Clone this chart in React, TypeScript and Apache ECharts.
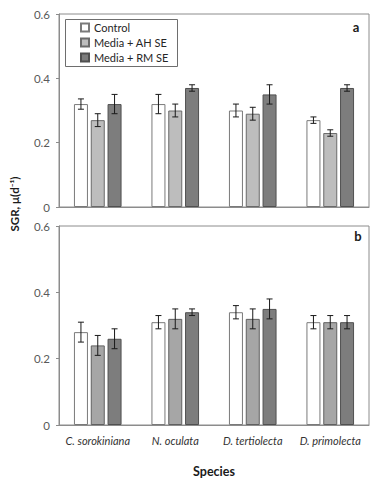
import React, { useEffect, useRef } from "react";
import * as echarts from "echarts";

const species = ["C. sorokiniana", "N. oculata", "D. tertiolecta", "D. primolecta"];
const seriesNames = ["Control", "Media + AH SE", "Media + RM SE"];
const yTicks = [0, 0.2, 0.4, 0.6];

// Panel a
const aControl = [0.32, 0.32, 0.30, 0.27];
const aControlErr = [0.016, 0.03, 0.02, 0.01];
const aAH = [0.27, 0.30, 0.29, 0.23];
const aAHErr = [0.02, 0.02, 0.02, 0.01];
const aRM = [0.32, 0.37, 0.35, 0.37];
const aRMErr = [0.03, 0.01, 0.03, 0.01];

// Panel b
const bControl = [0.28, 0.31, 0.34, 0.31];
const bControlErr = [0.03, 0.02, 0.02, 0.02];
const bAH = [0.24, 0.32, 0.32, 0.31];
const bAHErr = [0.03, 0.03, 0.03, 0.02];
const bRM = [0.26, 0.34, 0.35, 0.31];
const bRMErr = [0.03, 0.01, 0.03, 0.02];

const FONT = "Lato";
const BAR_W = 14;
const BAR_GAP = 2.8;

const colorsA = [
  { fill: "#ffffff", border: "#7a7a7a" },
  { fill: "#bdbdbd", border: "#6a6a6a" },
  { fill: "#7d7d7d", border: "#505050" },
];
const colorsB = [
  { fill: "#ffffff", border: "#7a7a7a" },
  { fill: "#a6a6a6", border: "#606060" },
  { fill: "#7d7d7d", border: "#505050" },
];

function errSeries(vals: number[], errs: number[], idx: number, axis: number) {
  const offset = (idx - 1) * (BAR_W + BAR_GAP);
  return {
    type: "custom",
    xAxisIndex: axis,
    yAxisIndex: axis,
    z: 10,
    silent: true,
    data: vals.map((v, i) => [i, v, errs[i]]),
    encode: { x: 0, y: 1 },
    renderItem: (params: any, api: any) => {
      const c = api.value(0);
      const v = api.value(1);
      const e = api.value(2);
      const x = api.coord([c, v])[0] + offset;
      const yt = api.coord([c, v + e])[1];
      const yb = api.coord([c, v - e])[1];
      const cap = 3;
      const st = { stroke: "#1a1a1a", lineWidth: 1 };
      return {
        type: "group",
        children: [
          { type: "line", shape: { x1: x, y1: yt, x2: x, y2: yb }, style: st },
          { type: "line", shape: { x1: x - cap, y1: yt, x2: x + cap, y2: yt }, style: st },
          { type: "line", shape: { x1: x - cap, y1: yb, x2: x + cap, y2: yb }, style: st },
        ],
      };
    },
  };
}

function barSeries(name: string, vals: number[], axis: number, col: { fill: string; border: string }) {
  return {
    type: "bar",
    name,
    xAxisIndex: axis,
    yAxisIndex: axis,
    barWidth: BAR_W,
    barGap: "20%",
    data: vals,
    itemStyle: { color: col.fill, borderColor: col.border, borderWidth: 1 },
  };
}

export default function App() {
  const ref = useRef<HTMLDivElement>(null);
  useEffect(() => {
    if (!ref.current) return;
    const chart = echarts.init(ref.current, null, { renderer: "svg" });
    const yAxisBase = (show: boolean) => ({
      type: "value",
      min: 0,
      max: 0.6,
      interval: 0.2,
      axisLine: { show: true, lineStyle: { color: "#8c8c8c" } },
      axisTick: { show: true, length: 3, lineStyle: { color: "#8c8c8c" } },
      splitLine: { show: false },
      axisLabel: {
        show,
        color: "#595959",
        fontFamily: FONT,
        fontSize: 11.5,
        margin: 9,
        formatter: (v: number) => (yTicks.includes(Math.round(v * 10) / 10) ? (v === 0 ? "0" : v.toFixed(1)) : ""),
      },
    });
    const xAxisBase = (showLabel: boolean) => ({
      type: "category",
      data: species,
      axisLine: { show: true, lineStyle: { color: "#8c8c8c" } },
      axisTick: { show: false },
      axisLabel: {
        show: showLabel,
        interval: 0,
        color: "#333333",
        fontFamily: FONT,
        fontStyle: "italic",
        fontSize: 11,
        margin: 10,
      },
    });
    chart.setOption({
      animation: false,
      backgroundColor: "#ffffff",
      grid: [
        { left: 59, right: 5, top: 14, height: 193, show: true, borderColor: "#8c8c8c", borderWidth: 1, backgroundColor: "transparent" },
        { left: 59, right: 5, top: 226, height: 199, show: true, borderColor: "#8c8c8c", borderWidth: 1, backgroundColor: "transparent" },
      ],
      xAxis: [{ ...xAxisBase(false), gridIndex: 0 }, { ...xAxisBase(true), gridIndex: 1 }],
      yAxis: [{ ...yAxisBase(true), gridIndex: 0 }, { ...yAxisBase(true), gridIndex: 1 }],
      legend: {
        orient: "vertical",
        left: 80,
        top: 22,
        data: seriesNames,
        icon: "rect",
        itemWidth: 8,
        itemHeight: 8,
        itemGap: 4,
        padding: 0,
        textStyle: { fontFamily: FONT, fontSize: 11, color: "#262626" },
      },
      graphic: [
        { type: "rect", shape: { x: 65.5, y: 19.5, width: 112, height: 47 }, style: { fill: "none", stroke: "#6e6e6e", lineWidth: 1 }, z: 5 },
        { type: "text", x: 356, y: 27, style: { text: "a", font: `bold 13px ${FONT}`, fill: "#1a1a1a", textAlign: "center", textVerticalAlign: "middle" } },
        { type: "text", x: 358, y: 236, style: { text: "b", font: `bold 13px ${FONT}`, fill: "#1a1a1a", textAlign: "center", textVerticalAlign: "middle" } },
        { type: "text", x: 214, y: 471, style: { text: "Species", font: `bold 12.5px ${FONT}`, fill: "#1a1a1a", textAlign: "center", textVerticalAlign: "middle" } },
        {
          type: "text",
          x: 14,
          y: 204,
          rotation: Math.PI / 2,
          style: { text: "SGR, μ(d⁻¹)", font: `bold 11.5px ${FONT}`, fill: "#1a1a1a", textAlign: "center", textVerticalAlign: "middle" },
        },
      ],
      series: [
        barSeries(seriesNames[0], aControl, 0, colorsA[0]),
        barSeries(seriesNames[1], aAH, 0, colorsA[1]),
        barSeries(seriesNames[2], aRM, 0, colorsA[2]),
        barSeries(seriesNames[0], bControl, 1, colorsB[0]),
        barSeries(seriesNames[1], bAH, 1, colorsB[1]),
        barSeries(seriesNames[2], bRM, 1, colorsB[2]),
        errSeries(aControl, aControlErr, 0, 0),
        errSeries(aAH, aAHErr, 1, 0),
        errSeries(aRM, aRMErr, 2, 0),
        errSeries(bControl, bControlErr, 0, 1),
        errSeries(bAH, bAHErr, 1, 1),
        errSeries(bRM, bRMErr, 2, 1),
      ],
    });
    return () => chart.dispose();
  }, []);
  return <div ref={ref} style={{ position: "fixed", left: 0, top: 0, width: 374, height: 482 }} />;
}
